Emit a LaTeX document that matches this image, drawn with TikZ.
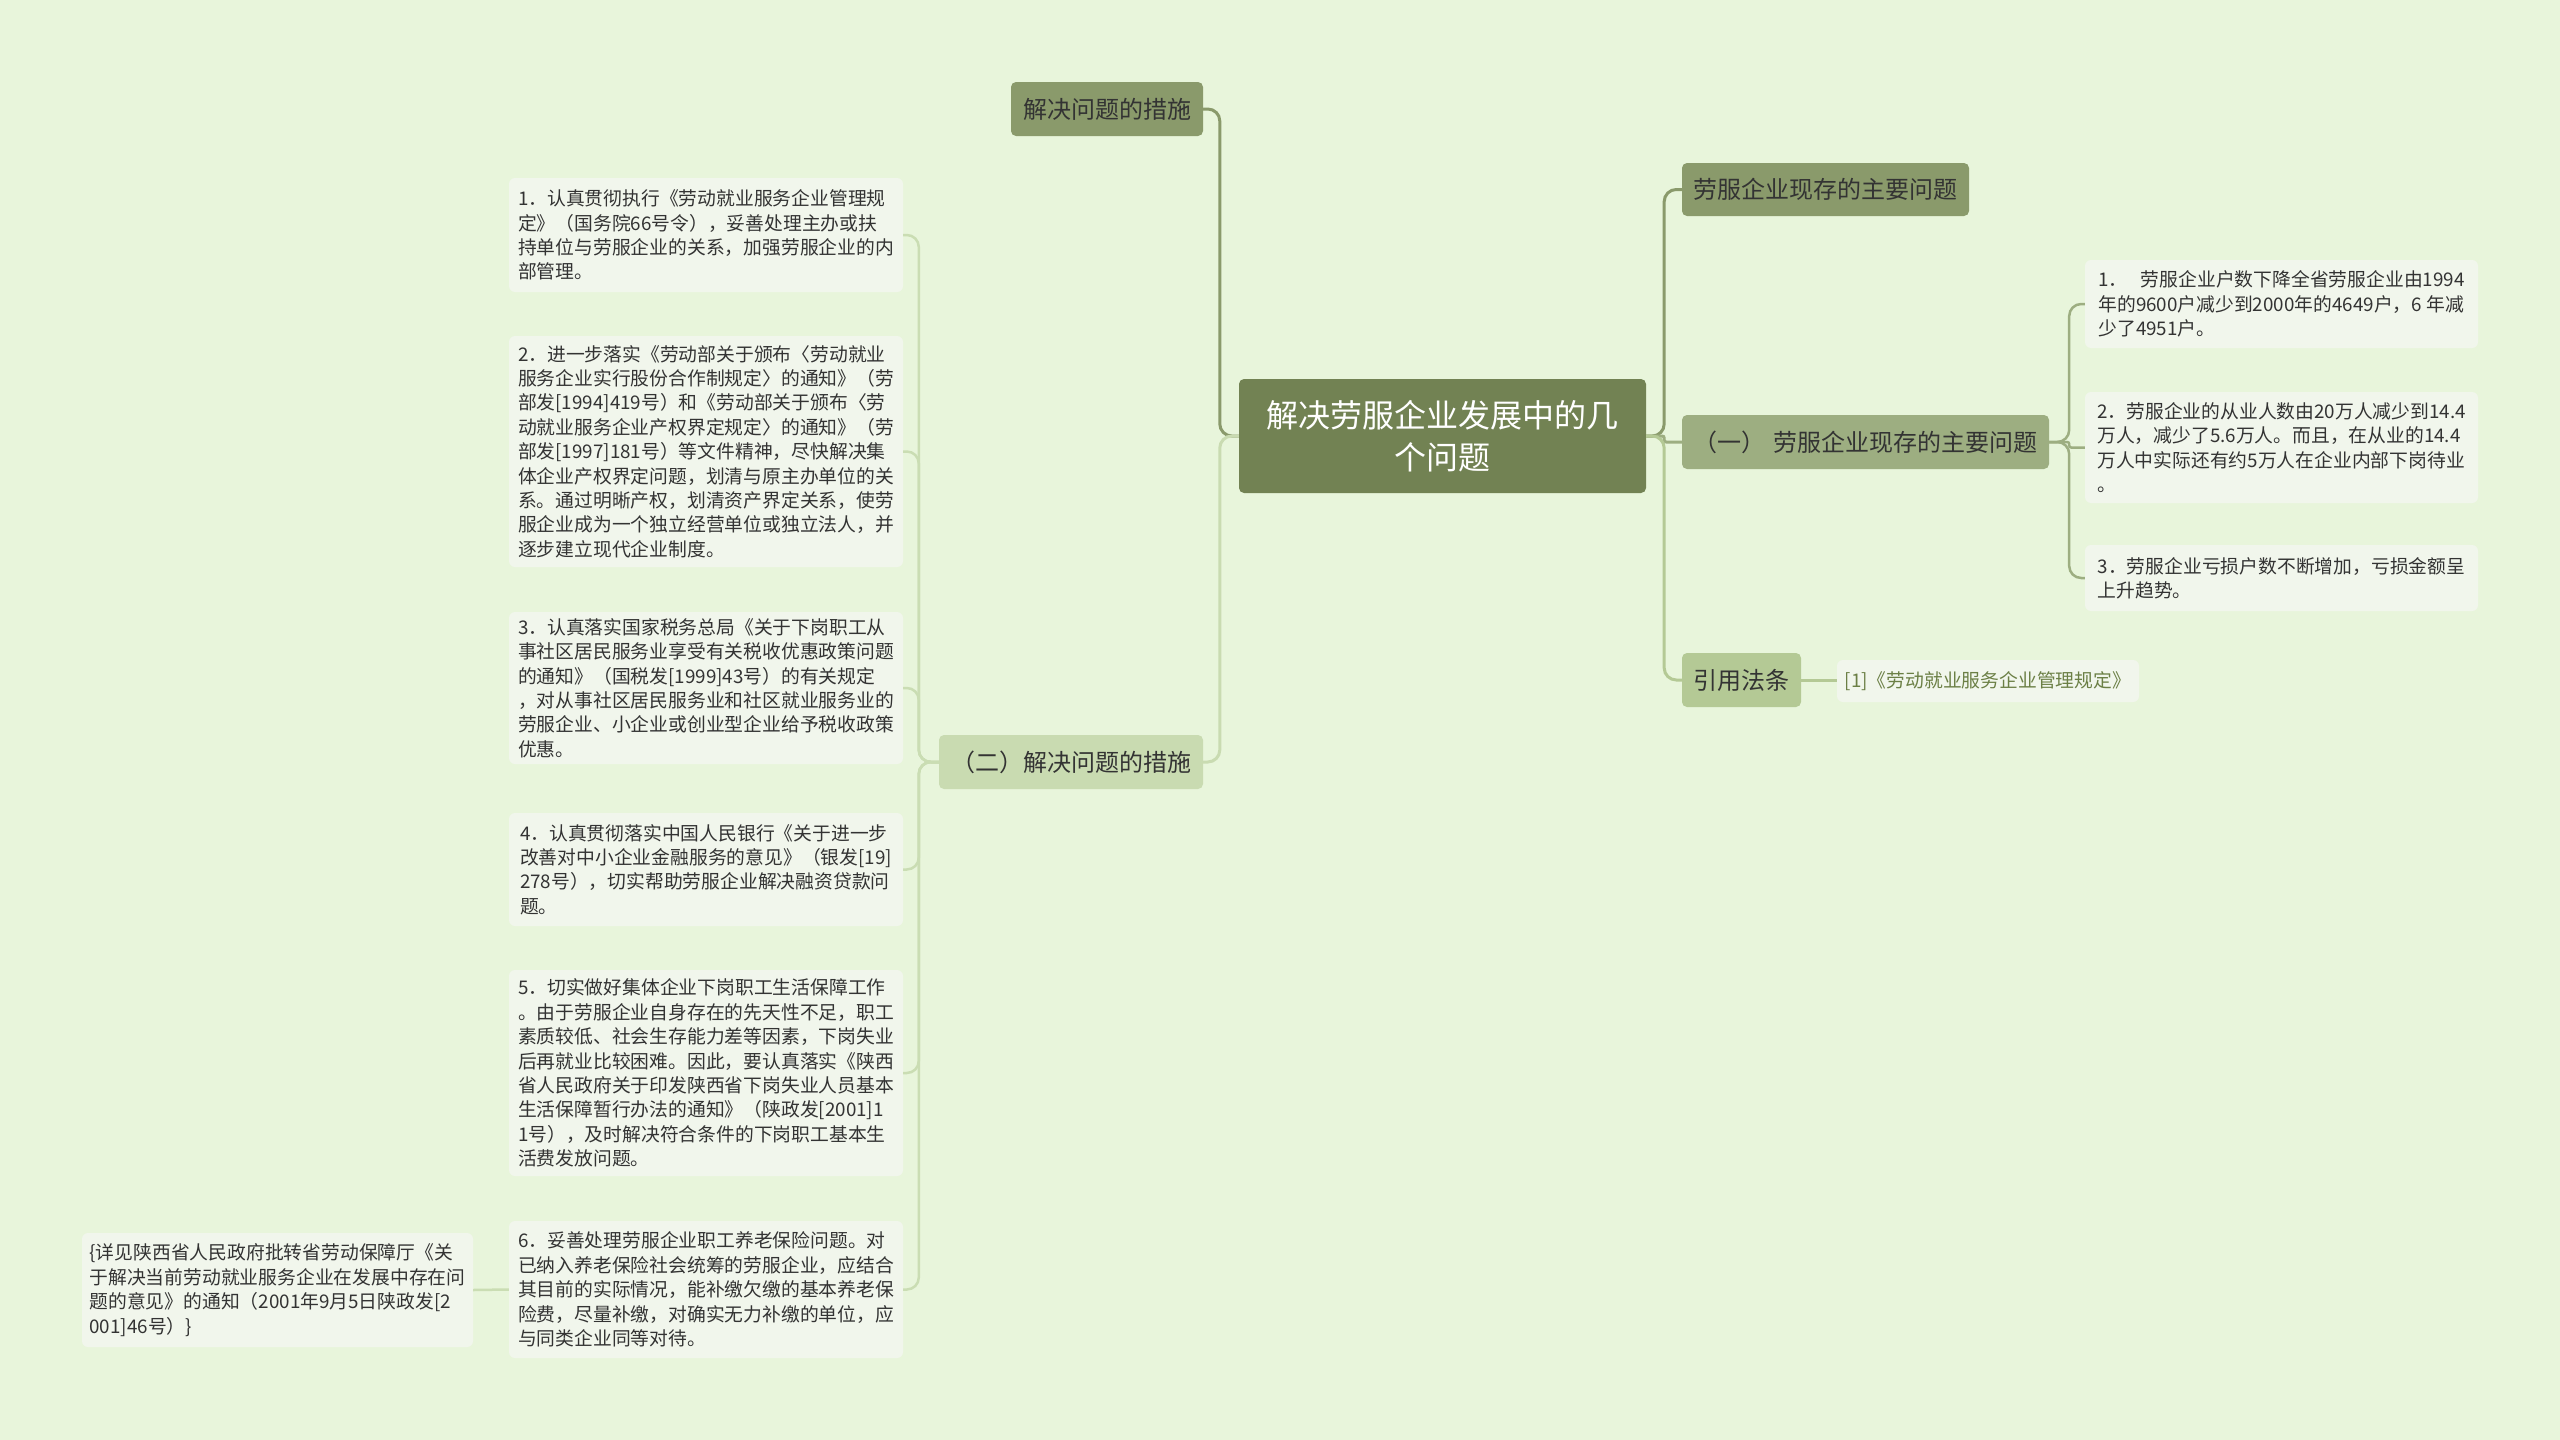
\documentclass[tikz,border=0pt]{standalone}
\usepackage{fontspec}
\setmainfont{Noto Sans CJK SC}
\definecolor{bgcol}{HTML}{E8F5DB}
\definecolor{centercol}{HTML}{728253}
\definecolor{olivecol}{HTML}{8A9A6B}
\definecolor{onecol}{HTML}{9DAE81}
\definecolor{twocol}{HTML}{C9DBB1}
\definecolor{lawcol}{HTML}{B4C995}
\definecolor{leafcol}{HTML}{F1F6EC}
\definecolor{twigcol}{HTML}{CADDB3}
\definecolor{textcol}{HTML}{333333}
\definecolor{refcol}{HTML}{6B7F45}

\begin{document}
\begin{tikzpicture}[x=1pt,y=-1pt,
    topic/.style={rounded corners=5pt, inner sep=0pt, text=textcol,
        font=\fontsize{24}{30}\selectfont},
    leaf/.style={rounded corners=6pt, fill=leafcol, inner sep=0pt, align=left,
        minimum width=394pt, text=textcol, font=\fontsize{18.8}{24.4}\selectfont},
    trunk/.style={line width=3pt, rounded corners=12pt},
    twig/.style={line width=2.5pt, rounded corners=12pt, draw=twigcol}]

    % Draw the background
    \fill[bgcol] (0,0) rectangle (2560,1440);
    \useasboundingbox (0,0) rectangle (2560,1440);

    % Draw the central topic
    \node[topic, fill=centercol, text=white, align=center, minimum width=407pt,
        minimum height=114pt, font=\fontsize{32}{42.5}\selectfont] (center) at (1442.5,436)
        {解决劳服企业发展中的几\\个问题};

    % Draw the left branches
    \node[topic, fill=olivecol, minimum width=192pt, minimum height=54pt] (solveTop) at (1107,109) {解决问题的措施};
    \node[topic, fill=twocol, minimum width=264pt, minimum height=54pt] (solveTwo) at (1071,762) {（二）解决问题的措施};

    % Draw the right branches
    \node[topic, fill=olivecol, minimum width=287pt, minimum height=53pt] (probTop) at (1825.5,189.5) {劳服企业现存的主要问题};
    \node[topic, fill=onecol, minimum width=367pt, minimum height=54pt] (probOne) at (1865.5,442) {（一）\hspace{0.3em}劳服企业现存的主要问题};
    \node[topic, fill=lawcol, minimum width=119pt, minimum height=54pt] (lawRef) at (1741.5,680) {引用法条};
    \node[leaf, minimum width=302pt, minimum height=42pt, text=refcol] (lawItem) at (1988,681) {[1]《劳动就业服务企业管理规定》};

    % Draw the problem leaves
    \node[leaf, minimum width=393pt, minimum height=88pt] (p1) at (2281.5,304)
        {1．\hspace{0.7em}劳服企业户数下降全省劳服企业由1994\\年的9600户减少到2000年的4649户，6 年减\\少了4951户。};
    \node[leaf, minimum width=393pt, minimum height=111pt] (p2) at (2281.5,447.5)
        {2．劳服企业的从业人数由20万人减少到14.4\\万人，减少了5.6万人。而且，在从业的14.4\\万人中实际还有约5万人在企业内部下岗待业\\。};
    \node[leaf, minimum width=393pt, minimum height=66pt] (p3) at (2281.5,578)
        {3．劳服企业亏损户数不断增加，亏损金额呈\\上升趋势。};

    % Draw the measure leaves
    \node[leaf, minimum height=114pt] (s1) at (706,235)
        {1．认真贯彻执行《劳动就业服务企业管理规\\定》（国务院66号令），妥善处理主办或扶\\持单位与劳服企业的关系，加强劳服企业的内\\部管理。};
    \node[leaf, minimum height=231pt] (s2) at (706,451.5)
        {2．进一步落实《劳动部关于颁布〈劳动就业\\服务企业实行股份合作制规定〉的通知》（劳\\部发[1994]419号）和《劳动部关于颁布〈劳\\动就业服务企业产权界定规定〉的通知》（劳\\部发[1997]181号）等文件精神，尽快解决集\\体企业产权界定问题，划清与原主办单位的关\\系。通过明晰产权，划清资产界定关系，使劳\\服企业成为一个独立经营单位或独立法人，并\\逐步建立现代企业制度。};
    \node[leaf, minimum height=152pt] (s3) at (706,688)
        {3．认真落实国家税务总局《关于下岗职工从\\事社区居民服务业享受有关税收优惠政策问题\\的通知》（国税发[1999]43号）的有关规定\\，对从事社区居民服务业和社区就业服务业的\\劳服企业、小企业或创业型企业给予税收政策\\优惠。};
    \node[leaf, minimum height=113pt] (s4) at (706,869.5)
        {4．认真贯彻落实中国人民银行《关于进一步\\改善对中小企业金融服务的意见》（银发[19]\\278号），切实帮助劳服企业解决融资贷款问\\题。};
    \node[leaf, minimum height=206pt] (s5) at (706,1073)
        {5．切实做好集体企业下岗职工生活保障工作\\。由于劳服企业自身存在的先天性不足，职工\\素质较低、社会生存能力差等因素，下岗失业\\后再就业比较困难。因此，要认真落实《陕西\\省人民政府关于印发陕西省下岗失业人员基本\\生活保障暂行办法的通知》（陕政发[2001]1\\1号），及时解决符合条件的下岗职工基本生\\活费发放问题。};
    \node[leaf, minimum height=137pt] (s6) at (706,1289.5)
        {6．妥善处理劳服企业职工养老保险问题。对\\已纳入养老保险社会统筹的劳服企业，应结合\\其目前的实际情况，能补缴欠缴的基本养老保\\险费，尽量补缴，对确实无力补缴的单位，应\\与同类企业同等对待。};
    \node[leaf, minimum width=391pt, minimum height=114pt] (note) at (277.5,1290)
        {\{详见陕西省人民政府批转省劳动保障厅《关\\于解决当前劳动就业服务企业在发展中存在问\\题的意见》的通知（2001年9月5日陕政发[2\\001]46号）\}};

    % Connect the central topic
    \draw[trunk, olivecol] (center.west) -- ++(-19,0) |- (solveTop.east);
    \draw[trunk, twocol] (center.west) -- ++(-19,0) |- (solveTwo.east);
    \draw[trunk, olivecol] (center.east) -- ++(18,0) |- (probTop.west);
    \draw[trunk, onecol, rounded corners=2pt] (center.east) -- ++(18,0) |- (probOne.west);
    \draw[trunk, lawcol] (center.east) -- ++(18,0) |- (lawRef.west);
    \draw[trunk, lawcol] (lawRef.east) -- (lawRef.east -| lawItem.west);

    % Connect the leaves
    \foreach \p in {p1,p3}
        \draw[trunk, line width=2.5pt, onecol] (probOne.east) -- ++(20,0) |- (\p.west);
    \draw[trunk, line width=2.5pt, onecol, rounded corners=2pt] (probOne.east) -- ++(20,0) |- (p2.west);
    \foreach \s in {s1,s2,s3,s4,s5,s6}
        \draw[twig] (solveTwo.west) -- ++(-20,0) |- (\s.east);
    \draw[twig] (s6.west) -- (note.east);

\end{tikzpicture}
\end{document}
